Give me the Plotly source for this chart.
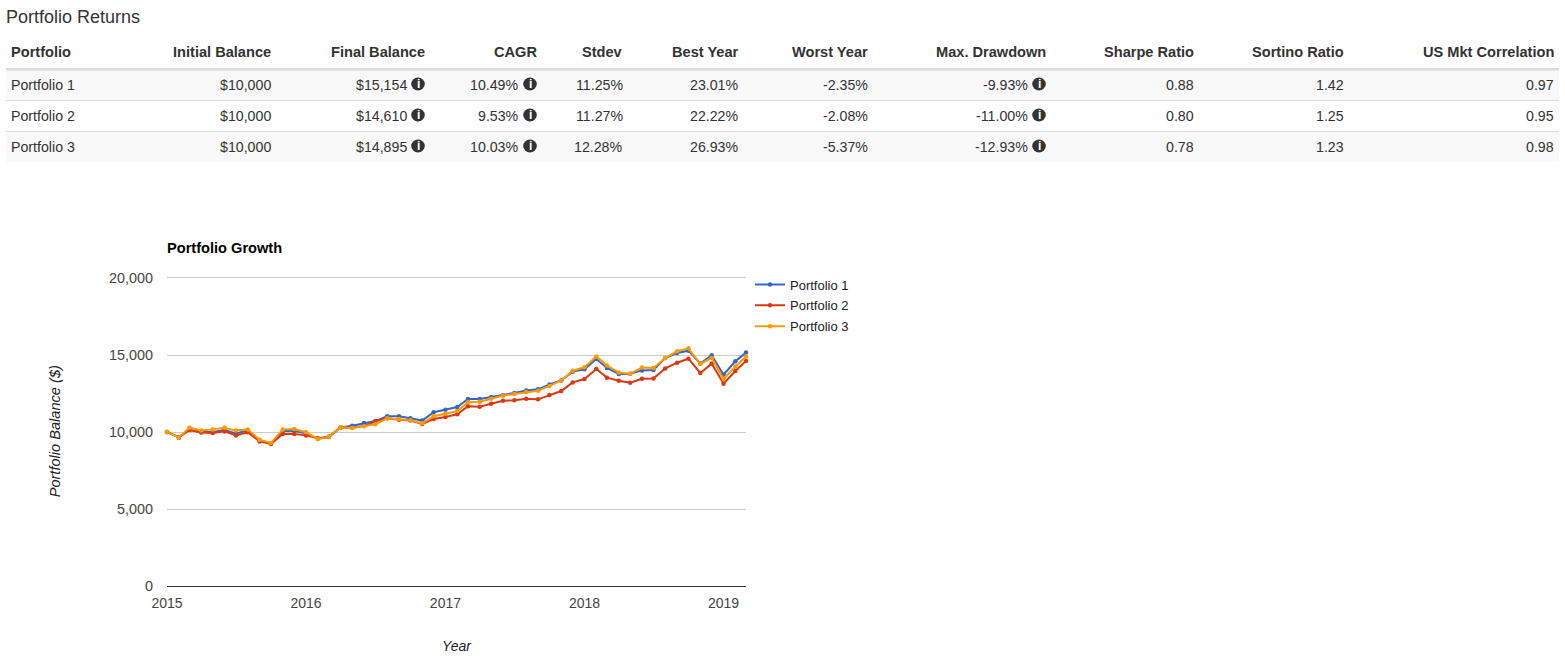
import plotly.graph_objects as go

W, H = 1565, 662
FONT = "Liberation Sans, Arial, sans-serif"

months = [f"{y}-{m:02d}-01" for y in range(2015, 2020) for m in range(1, 13)][:51]
portfolio_1 = [10000, 9650, 10150, 10000, 10000, 10130, 9910, 10090, 9460, 9260, 10060, 10060, 9910, 9570, 9680, 10300, 10410, 10580, 10710, 11020, 11020, 10890, 10740, 11280, 11450, 11620, 12140, 12140, 12270, 12380, 12530, 12700, 12770, 13090, 13350, 13920, 14070, 14740, 14160, 13770, 13790, 14000, 14030, 14800, 15130, 15280, 14440, 14980, 13720, 14590, 15154]
portfolio_2 = [10000, 9650, 10130, 9960, 9935, 10040, 9780, 9980, 9390, 9220, 9870, 9870, 9780, 9590, 9690, 10300, 10280, 10390, 10690, 10890, 10800, 10740, 10520, 10840, 10970, 11150, 11670, 11640, 11840, 12030, 12060, 12160, 12120, 12400, 12660, 13220, 13440, 14090, 13530, 13330, 13200, 13460, 13480, 14130, 14500, 14760, 13830, 14440, 13140, 13960, 14610]
portfolio_3 = [10000, 9650, 10280, 10100, 10170, 10280, 10090, 10170, 9500, 9290, 10170, 10190, 9980, 9550, 9680, 10300, 10260, 10370, 10500, 10890, 10840, 10760, 10560, 11020, 11190, 11360, 11930, 11970, 12160, 12360, 12470, 12600, 12680, 12990, 13350, 13980, 14200, 14910, 14310, 13870, 13790, 14180, 14160, 14800, 15240, 15430, 14420, 14810, 13440, 14260, 14895]

series_names = ["Portfolio 1", "Portfolio 2", "Portfolio 3"]
series_values = [portfolio_1, portfolio_2, portfolio_3]
series_colors = ["#3366cc", "#dc3912", "#ff9900"]

year_ticks = ["2015-01-01", "2016-01-01", "2017-01-01", "2018-01-01", "2019-01-01"]
year_labels = ["2015", "2016", "2017", "2018", "2019"]
balance_ticks = [0, 5000, 10000, 15000, 20000]

table_headers = ["Portfolio", "Initial Balance", "Final Balance", "CAGR", "Stdev", "Best Year", "Worst Year", "Max. Drawdown", "Sharpe Ratio", "Sortino Ratio", "US Mkt Correlation"]
initial_balance = ["$10,000", "$10,000", "$10,000"]
final_balance = ["$15,154", "$14,610", "$14,895"]
cagr = ["10.49%", "9.53%", "10.03%"]
stdev = ["11.25%", "11.27%", "12.28%"]
best_year = ["23.01%", "22.22%", "26.93%"]
worst_year = ["-2.35%", "-2.08%", "-5.37%"]
max_drawdown = ["-9.93%", "-11.00%", "-12.93%"]
sharpe = ["0.88", "0.80", "0.78"]
sortino = ["1.42", "1.25", "1.23"]
us_corr = ["0.97", "0.95", "0.98"]
table_columns = [series_names, initial_balance, final_balance, cagr, stdev, best_year, worst_year, max_drawdown, sharpe, sortino, us_corr]

col_right = [None, 271, 425, 537, 623, 739, 868, 1046, 1194, 1344, 1554]
col_has_icon = [False, False, True, True, False, False, False, True, False, False, False]
row_text_y = [85, 116, 147]
row_bands = [(70, 100, "#f9f9f9"), (101, 131, "#ffffff"), (132, 162, "#f9f9f9")]
row_rules = [100.5, 131.5]

def px(x):
    return x / W

def py(y):
    return 1 - y / H

fig = go.Figure()
for name, vals, color in zip(series_names, series_values, series_colors):
    fig.add_trace(go.Scatter(
        x=months, y=vals, name=name, mode="lines+markers", legendgroup=name,
        line=dict(color=color, width=2), marker=dict(color=color, size=4.5),
        cliponaxis=False,
    ))

annotations = []
shapes = []

def text(x, y, s, size=14.2, color="#333333", anchor="left", bold=False, italic=False):
    if bold:
        s = f"<b>{s}</b>"
    if italic:
        s = f"<i>{s}</i>"
    if anchor == "right":
        x += 1
    elif anchor == "left":
        x -= 1
    annotations.append(dict(
        x=px(x), y=py(y), xref="paper", yref="paper", text=s, showarrow=False,
        xanchor=anchor, yanchor="middle", borderpad=0,
        font=dict(family=FONT, size=size, color=color),
    ))

def rect(x0, y0, x1, y1, color):
    shapes.append(dict(type="rect", xref="paper", yref="paper", layer="below",
                       x0=px(x0), x1=px(x1), y0=py(y0), y1=py(y1),
                       fillcolor=color, line=dict(width=0)))

text(6, 17, "Portfolio Returns", size=18)

for top, bottom, color in row_bands:
    rect(6, top, 1559, bottom, color)
rect(6, 68, 1559, 70.5, "#dddddd")
for y in row_rules:
    rect(6, y - 0.5, 1559, y + 0.5, "#dddddd")

for i, head in enumerate(table_headers):
    if i == 0:
        text(11, 52, head, size=14.6, bold=True)
    else:
        text(col_right[i], 52, head, size=14.6, anchor="right", bold=True)

for i, col in enumerate(table_columns):
    for r, value in enumerate(col):
        y = row_text_y[r]
        if i == 0:
            text(11, y, value)
        elif col_has_icon[i]:
            cx = col_right[i] - 7
            text(col_right[i] - 18, y, value, anchor="right")
            shapes.append(dict(type="circle", xref="paper", yref="paper",
                               x0=px(cx - 6.8), x1=px(cx + 6.8), y0=py(y - 7.5), y1=py(y + 5.5),
                               fillcolor="#333333", line=dict(width=0)))
            text(cx, y - 1, "i", size=12, color="#ffffff", anchor="center", bold=True)
        else:
            text(col_right[i], y, value, anchor="right")

text(167, 248, "Portfolio Growth", size=14.6, color="#000000", bold=True)

fig.update_layout(
    width=W, height=H, autosize=False,
    margin=dict(l=0, r=0, t=0, b=0),
    paper_bgcolor="#ffffff", plot_bgcolor="#ffffff",
    font=dict(family=FONT, size=14, color="#444444"),
    annotations=annotations, shapes=shapes,
    legend=dict(x=px(750), y=py(269.5), xanchor="left", yanchor="top",
                font=dict(family=FONT, size=13, color="#222222"),
                itemwidth=30, tracegroupgap=1, traceorder="grouped",
                bgcolor="rgba(0,0,0,0)"),
    xaxis=dict(domain=[px(167), px(746)], type="date",
               range=["2015-01-01", "2019-03-01"],
               tickmode="array", tickvals=year_ticks, ticktext=year_labels,
               showgrid=False, showline=True, linecolor="#333333", linewidth=1,
               zeroline=False, ticks="", automargin=False, ticklabelstandoff=4,
               tickfont=dict(family=FONT, size=14, color="#444444"),
               title=dict(text="<i>Year</i>", standoff=31,
                          font=dict(family=FONT, size=14, color="#222222"))),
    yaxis=dict(domain=[py(586), py(276.5)], range=[0, 20097],
               tickmode="array", tickvals=balance_ticks, tickformat=",d",
               showgrid=True, gridcolor="#cccccc", gridwidth=1,
               zeroline=False, showline=False, ticks="", automargin=False,
               ticklabelstandoff=13,
               tickfont=dict(family=FONT, size=14.4, color="#444444"),
               title=dict(text="<i>Portfolio Balance ($)</i>", standoff=44,
                          font=dict(family=FONT, size=14.6, color="#222222"))),
)

fig.write_html("out.html", config=dict(displayModeBar=False),
               post_script="document.body.style.margin='0';document.body.style.overflow='hidden';")
